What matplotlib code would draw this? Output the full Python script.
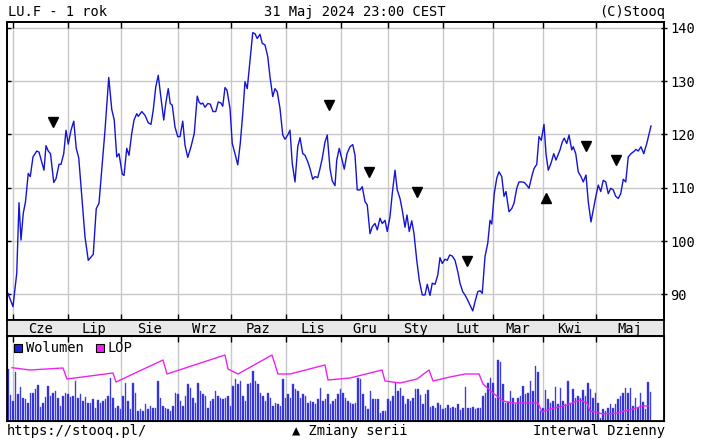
import numpy as np
import matplotlib.pyplot as plt
from matplotlib.patches import Rectangle

plt.rcParams['font.family'] = ['DejaVu Sans Mono', 'DejaVu Sans']
plt.rcParams['font.size'] = 9.9

# os x = numer sesji (0 = 30 Maj 2023, 257 = 31 Maj 2024)
month_names = ['Cze', 'Lip', 'Sie', 'Wrz', 'Paz', 'Lis', 'Gru', 'Sty', 'Lut', 'Mar', 'Kwi', 'Maj']
month_start = [2, 24, 45, 68, 89, 111, 133, 152, 174, 194, 214, 235]

# kurs
price_day = [0.0, 2.0, 3.5, 4.4, 5.2, 6.1, 7.0, 8.1, 8.9, 10.0, 11.5, 12.4, 14.4, 15.2, 16.1, 17.0,
             18.3, 19.2, 20.4, 21.2, 22.3, 23.2, 24.1, 25.2, 26.3, 27.3, 28.3, 30.8, 32.1, 34.1, 35.3,
             36.4, 38.8, 40.3, 41.5, 42.5, 43.5, 44.4, 45.7, 46.4, 47.5, 48.4, 49.5, 50.4, 51.5, 52.1,
             53.5, 54.8, 56.1, 57.2, 58.1, 59.1, 60.1, 61.2, 62.3, 63.1, 64.1, 64.9, 65.7, 66.8, 67.9,
             68.8, 69.9, 70.8, 71.9, 73.2, 74.5, 75.7, 76.4, 77.2, 77.9, 78.8, 79.9, 80.9, 82.0, 83.1,
             84.1, 85.2, 85.9, 86.8, 87.6, 88.8, 89.7, 90.8, 91.9, 92.9, 93.9, 94.8, 95.7, 96.8, 97.9,
             98.8, 99.7, 100.8, 101.7, 102.8, 103.9, 104.8, 105.9, 106.8, 107.7, 108.8, 109.9, 110.8,
             111.9, 112.8, 113.7, 114.8, 115.9, 116.8, 117.9, 118.8, 119.9, 120.8, 121.9, 122.8, 123.9,
             124.8, 125.7, 126.8, 127.7, 128.8, 129.7, 130.8, 131.5, 132.5, 133.5, 134.5, 135.6, 136.8,
             137.9, 138.8, 139.7, 140.8, 141.7, 142.8, 143.7, 144.8, 145.7, 146.8, 147.7, 148.8, 149.7,
             150.8, 151.7, 152.8, 153.7, 154.8, 155.7, 156.8, 157.7, 158.8, 159.6, 160.5, 161.5, 162.4,
             163.5, 164.5, 165.7, 166.8, 167.7, 168.8, 169.7, 170.8, 171.9, 172.8, 173.7, 174.8, 175.7,
             176.7, 177.7, 178.8, 179.9, 180.8, 181.9, 182.8, 183.9, 184.8, 185.9, 186.8, 187.9, 188.8,
             189.7, 190.8, 191.9, 192.8, 193.5, 194.5, 195.5, 196.4, 197.5, 198.4, 199.2, 200.4, 201.5,
             202.4, 203.5, 204.4, 205.5, 206.5, 207.5, 208.4, 209.5, 210.4, 211.5, 212.4, 213.3, 214.4,
             215.2, 216.1, 217.2, 218.3, 219.2, 220.8, 221.7, 222.5, 223.5, 224.4, 225.5, 226.1, 227.1,
             228.1, 229.2, 230.1, 231.2, 232.1, 233.2, 234.1, 235.1, 236.1, 237.1, 238.1, 239.1, 240.1,
             241.1, 242.1, 243.1, 244.1, 245.1, 246.1, 247.1, 248.1, 249.2, 250.3, 251.2, 252.1, 253.2,
             254.3, 255.5, 257.2]
price = [90.2, 87.7, 94.0, 107.2, 100.2, 105.2, 107.4, 112.7, 112.1, 115.8, 116.9, 116.7, 113.3, 117.9,
         116.9, 116.4, 111.0, 111.7, 114.4, 114.4, 116.4, 120.8, 118.2, 120.8, 122.5, 117.4, 115.6, 100.8,
         96.4, 97.5, 106.1, 107.1, 120.8, 130.7, 124.7, 122.7, 115.8, 116.4, 112.6, 112.3, 117.4, 116.1,
         120.2, 122.7, 123.9, 123.4, 124.3, 123.6, 122.2, 121.9, 124.6, 128.9, 131.1, 126.8, 122.7, 125.8,
         128.6, 125.8, 125.5, 121.4, 119.6, 119.6, 122.5, 118.0, 115.7, 117.7, 120.2, 127.2, 126.1, 125.7,
         125.9, 125.1, 125.8, 125.7, 124.3, 124.3, 126.1, 125.9, 125.3, 128.8, 128.3, 124.9, 118.3, 116.4,
         114.3, 118.3, 123.9, 129.9, 128.6, 133.9, 139.1, 138.9, 138.0, 138.8, 137.1, 136.8, 134.6, 130.8,
         127.1, 128.6, 128.0, 124.9, 119.9, 119.1, 119.9, 120.8, 114.6, 111.1, 117.7, 119.4, 116.4, 116.1,
         114.9, 113.6, 111.6, 112.1, 111.9, 113.6, 115.5, 118.6, 119.9, 113.6, 111.3, 110.4, 115.2, 117.4,
         115.5, 113.5, 116.4, 117.7, 118.1, 116.1, 109.6, 109.6, 110.2, 107.4, 106.8, 101.4, 102.7, 103.3,
         102.1, 104.3, 103.3, 103.9, 101.8, 104.6, 108.9, 113.3, 109.6, 108.0, 105.8, 102.6, 104.9, 101.8,
         103.8, 101.4, 96.4, 92.7, 89.9, 89.9, 91.9, 89.8, 92.1, 91.9, 93.6, 96.9, 95.8, 96.6, 96.4, 97.4,
         97.2, 96.4, 94.3, 92.1, 90.5, 89.9, 88.9, 88.0, 86.9, 88.6, 90.5, 90.7, 90.2, 97.1, 99.6, 103.9,
         103.2, 108.9, 111.8, 113.0, 112.1, 108.4, 109.3, 105.5, 106.1, 107.1, 109.9, 111.1, 111.1, 111.0,
         110.5, 109.9, 112.1, 113.6, 114.4, 119.6, 118.9, 121.9, 116.4, 113.3, 114.6, 116.4, 115.2, 117.1,
         118.6, 119.3, 118.3, 119.9, 117.1, 117.7, 116.4, 113.0, 112.1, 111.1, 112.4, 107.4, 103.6, 105.8,
         108.3, 110.5, 109.3, 111.4, 111.1, 108.9, 109.9, 109.6, 108.4, 108.0, 108.9, 111.6, 111.1, 115.8,
         116.4, 116.8, 117.2, 116.9, 117.7, 116.4, 118.3, 121.6]

# zmiany serii
down_day = [18.1, 128.5, 144.5, 163.6, 183.5, 231.1, 243.1]
down_price = [122.4, 125.5, 113.0, 109.2, 96.3, 117.9, 115.3]
up_day = [215.1]
up_price = [108.0]

# wolumen (jedna wartosc na sesje)
volume = [52, 26, 20, 49, 27, 34, 23, 22, 18, 28,
          28, 32, 36, 14, 18, 24, 35, 25, 28, 30,
          23, 15, 25, 28, 27, 24, 25, 40, 23, 27,
          20, 24, 18, 18, 22, 13, 21, 18, 20, 22,
          25, 43, 23, 13, 15, 12, 25, 38, 20, 12,
          38, 28, 10, 12, 10, 17, 12, 15, 13, 13,
          40, 23, 15, 13, 12, 10, 15, 28, 27, 20,
          15, 25, 37, 33, 23, 18, 38, 30, 27, 25,
          13, 20, 22, 30, 25, 23, 22, 23, 25, 15,
          35, 42, 37, 40, 25, 20, 37, 38, 50, 40,
          37, 28, 25, 20, 28, 23, 15, 18, 17, 15,
          42, 23, 27, 23, 37, 32, 30, 23, 27, 25,
          18, 20, 19, 17, 22, 33, 20, 22, 27, 17,
          20, 22, 27, 32, 28, 23, 20, 18, 17, 18,
          43, 42, 27, 15, 12, 30, 22, 22, 22, 8,
          10, 10, 22, 20, 25, 38, 30, 33, 25, 17,
          22, 20, 23, 32, 32, 26, 17, 27, 31, 14,
          15, 13, 18, 16, 12, 13, 16, 13, 14, 13,
          17, 11, 13, 34, 13, 13, 14, 12, 13, 13,
          25, 28, 38, 43, 38, 23, 61, 59, 37, 18,
          19, 30, 23, 17, 23, 25, 35, 27, 28, 40,
          30, 55, 49, 10, 13, 31, 22, 18, 20, 34,
          17, 33, 20, 17, 40, 18, 32, 23, 25, 23,
          31, 25, 38, 32, 23, 28, 18, 3, 12, 10,
          13, 17, 13, 17, 22, 25, 28, 33, 28, 33,
          15, 23, 13, 28, 19, 12, 39, 29]

# LOP (liczba otwartych pozycji)
lop_day = [1.6, 8.8, 22.0, 23.6, 42.0, 43.2, 62.0, 63.6, 86.8, 88.0, 92.0, 105.6, 108.0, 112.8,
           126.8, 128.0, 136.8, 149.6, 150.8, 156.8, 163.6, 168.4, 170.0, 176.8, 182.8, 188.4,
           190.0, 194.0, 198.0, 202.0, 212.0, 213.6, 216.8, 223.6, 228.8, 231.6, 232.8, 238.0,
           243.6, 250.0, 254.0, 256.0]
lop = [53.3, 51, 53, 42, 48, 39, 61, 47, 66, 52, 47, 66, 47, 47, 56, 41, 43, 51, 40, 38, 42, 51,
       40, 44, 47, 47, 37, 28, 20, 18, 18, 9, 12, 16, 21, 18, 10, 7, 8, 12, 15, 15]

W, H = 701, 443
XMIN, XMAX = -0.4, 262.4
GRID = '#c8c8c8'


def box(x0, y0, x1, y1):
    return [x0 / W, 1 - y1 / H, (x1 - x0) / W, (y1 - y0) / H]


def fpos(x, y):
    return x / W, 1 - y / H


fig = plt.figure(figsize=(W / 100, H / 100), dpi=100)
fig.patch.set_facecolor('white')

# wykres kursu
ax = fig.add_axes(box(7, 22, 664, 320))
for m in month_start:
    ax.axvline(m, color=GRID, lw=1.0, zorder=1)
for p in [90, 100, 110, 120, 130, 140]:
    ax.axhline(p, color=GRID, lw=1.0, zorder=1)
ax.plot(price_day, price, color='#1414d2', lw=1.0, zorder=3)
ax.plot(down_day, down_price, 'v', color='black', ms=7, zorder=4)
ax.plot(up_day, up_price, '^', color='black', ms=7, zorder=4)
ax.set_xlim(XMIN, XMAX)
ax.set_ylim(85.2, 141.1)
ax.set_xticks(month_start)
ax.set_yticks([90, 100, 110, 120, 130, 140])
ax.tick_params(axis='x', which='both', direction='in', length=4, top=True, bottom=True,
               labelbottom=False, width=1.0)
ax.tick_params(axis='y', direction='in', length=3, left=True, right=False, labelleft=False, width=1.0)
for s in ax.spines.values():
    s.set_linewidth(1.3)
ax2 = ax.twinx()
ax2.set_ylim(ax.get_ylim())
ax2.set_yticks([90, 100, 110, 120, 130, 140])
ax2.tick_params(axis='y', direction='inout', length=5, width=1.0, pad=2, labelsize=9.9)
for s in ax2.spines.values():
    s.set_linewidth(1.3)

# pasek miesiecy
axm = fig.add_axes(box(7, 320, 664, 336))
axm.set_facecolor('#e8e8e8')
axm.set_xlim(XMIN, XMAX)
axm.set_ylim(0, 1)
axm.set_xticks([])
axm.set_yticks([])
bounds = month_start + [XMAX]
for i, name in enumerate(month_names):
    axm.text((bounds[i] + bounds[i + 1]) / 2, 0.45, name, ha='center', va='center', fontsize=9.9)
for s in axm.spines.values():
    s.set_linewidth(1.3)

# wolumen i LOP
axv = fig.add_axes(box(7, 336, 664, 421))
for m in month_start:
    axv.axvline(m, color=GRID, lw=1.0, zorder=1)
axv.bar(range(len(volume)), volume, width=0.65, color='#2a2ad8', edgecolor='#5a5ae6',
        linewidth=0.3, zorder=2)
axv.set_xlim(XMIN, XMAX)
axv.set_ylim(0, 85)
axv.set_xticks(month_start)
axv.set_yticks([])
axv.tick_params(axis='x', direction='in', length=4, top=True, bottom=False, labelbottom=False, width=1.0)
for s in axv.spines.values():
    s.set_linewidth(1.3)
axl = axv.twinx()
axl.plot(lop_day, lop, color='#ee22ee', lw=1.0)
axl.set_ylim(0, 85)
axl.set_yticks([])

# legenda
fig.add_artist(Rectangle(fpos(14, 352), 8 / W, 8 / H, transform=fig.transFigure,
                         facecolor='#2020d0', edgecolor='black', lw=0.8))
fig.text(*fpos(26, 348), 'Wolumen', ha='left', va='center')
fig.add_artist(Rectangle(fpos(96, 352), 8 / W, 8 / H, transform=fig.transFigure,
                         facecolor='#ee22ee', edgecolor='black', lw=0.8))
fig.text(*fpos(108, 348), 'LOP', ha='left', va='center')

# naglowek i stopka
fig.text(*fpos(8, 12), 'LU.F - 1 rok', ha='left', va='center')
fig.text(*fpos(355, 12), '31 Maj 2024 23:00 CEST', ha='center', va='center')
fig.text(*fpos(665, 12), '(C)Stooq', ha='right', va='center')
fig.text(*fpos(7, 431), 'https://stooq.pl/', ha='left', va='center')
fig.text(*fpos(292, 431), '▲ Zmiany serii', ha='left', va='center')
fig.text(*fpos(665, 431), 'Interwal Dzienny', ha='right', va='center')

fig.savefig('out.png', dpi=100)
